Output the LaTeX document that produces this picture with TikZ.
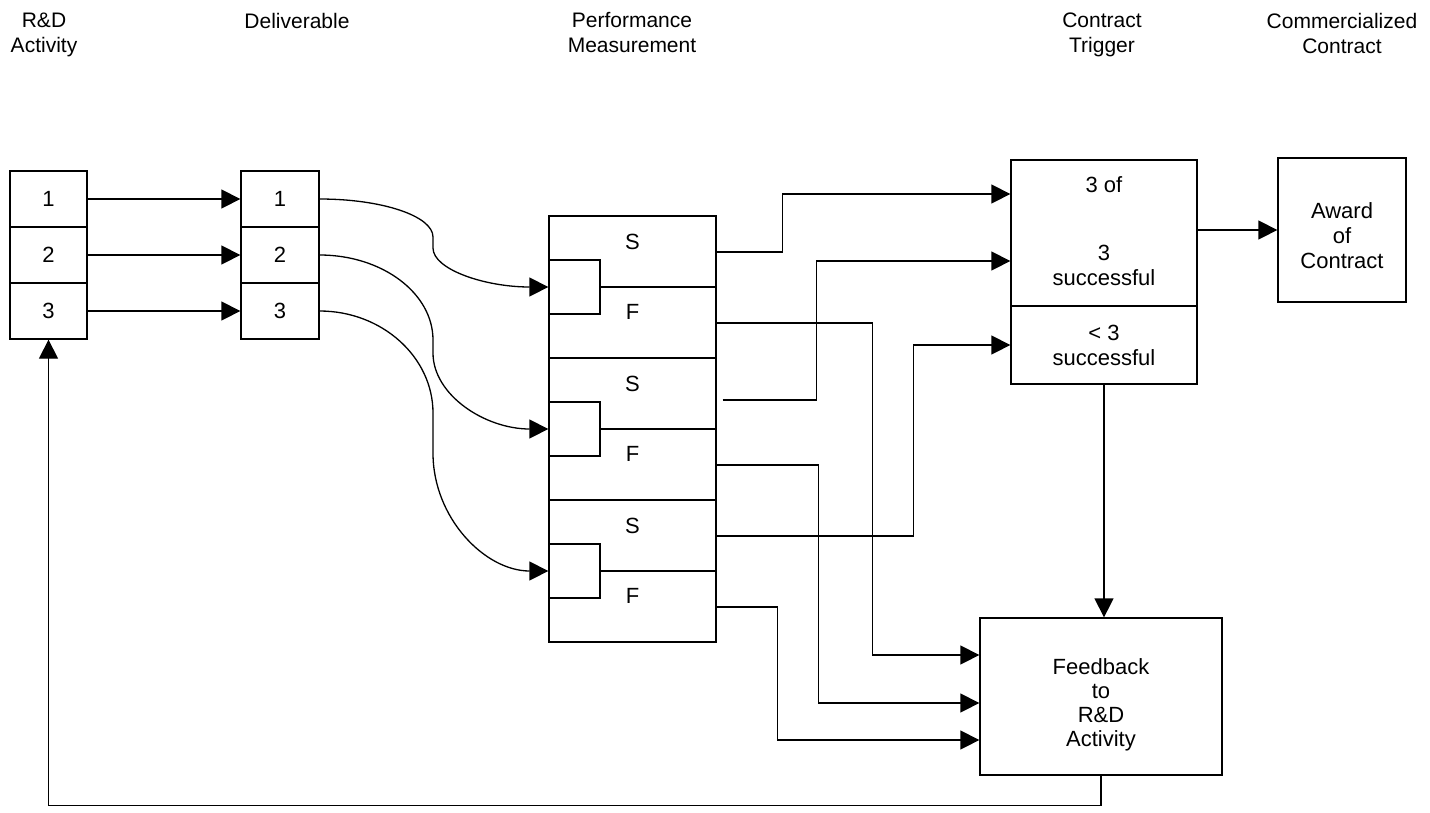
\documentclass[tikz,border=0pt]{standalone}
\usepackage{fontspec}
\setmainfont{Liberation Sans}
\usetikzlibrary{arrows.meta,calc}
\newcommand\fzb{\fontsize{22}{25}\selectfont}
\newcommand\fzh{\fontsize{21}{25}\selectfont}
\begin{document}
\begin{tikzpicture}[x=1pt,y=-1pt,
  ln/.style={line width=1.3pt},
  arr/.style={line width=1.3pt,-{Triangle[length=19pt,width=19pt]}},
  cellbox/.style={draw,line width=1.3pt,inner sep=0pt,font=\fzb},
  rdcell/.style={cellbox,minimum width=77pt,minimum height=56pt},
  delcell/.style={cellbox,minimum width=78pt,minimum height=56pt},
  pmblock/.style={cellbox,minimum width=167pt,minimum height=142pt},
  smallbox/.style={cellbox,minimum width=51pt,minimum height=54pt},
  txt/.style={font=\fzb,align=center,inner sep=0pt},
  head/.style={font=\fzh,align=center,inner sep=0pt}
]
\useasboundingbox (0,0) rectangle (1430,812);

% headers
\node[head] (hRD) at (44,35) {R\&D\\Activity};
\node[head] (hDel) at (297,20.5) {Deliverable};
\node[head] (hPM) at (632,33) {Performance\\Measurement};
\node[head] (hCT) at (1102,35) {Contract\\Trigger};
\node[head] (hCC) at (1342,33) {Commercialized\\Contract};

% R&D activity cells
\node[rdcell] (rd1) at (48.5,199) {1};
\node[rdcell] (rd2) at (48.5,255) {2};
\node[rdcell] (rd3) at (48.5,311) {3};

% deliverable cells
\node[delcell] (del1) at (280,199) {1};
\node[delcell] (del2) at (280,255) {2};
\node[delcell] (del3) at (280,311) {3};

% performance measurement blocks
\foreach \i/\y in {1/287,2/429,3/571}{
  \node[pmblock] (pm\i) at (632.5,\y) {};
  \node[smallbox] (sb\i) at (574.5,\y) {};
  \draw[ln] (sb\i.east) -- (pm\i.east);
  \node[txt] (pmS\i) at ($(pm\i.center)+(0,-45)$) {S};
  \node[txt] (pmF\i) at ($(pm\i.center)+(0,25)$) {F};
}

% contract trigger
\node[cellbox,minimum width=186pt,minimum height=146pt] (trigA) at (1104,233) {};
\node[txt] (trigA1) at (1104,185) {3 of};
\node[txt] (trigA2) at (1104,265.5) {3\\successful};
\node[cellbox,minimum width=186pt,minimum height=78pt,align=center] (trigB) at (1104,345) {< 3\\successful};

% award
\node[cellbox,minimum width=128pt,minimum height=144pt] (award) at (1342,230) {};
\node[txt] (awardT) at (1342,236) {Award\\of\\Contract};

% feedback
\node[cellbox,minimum width=242pt,minimum height=157pt] (fb) at (1101,696.5) {};
\node[txt,font=\fontsize{22}{24}\selectfont] (fbT) at (1101,705) {Feedback\\to\\R\&D\\Activity};

% R&D -> deliverable
\draw[arr] (rd1) -- (del1);
\draw[arr] (rd2) -- (del2);
\draw[arr] (rd3) -- (del3);

% deliverable -> performance (curved)
\draw[arr] (del1.east) .. controls (382,199) and (433,216) .. (433,237) -- (433,248)
  .. controls (433,269.5) and (485,287) .. (pm1.west);
\draw[arr] (del2.east) .. controls (382,255) and (433,293) .. (433,340) -- (433,353)
  .. controls (433,395) and (485,429) .. (pm2.west);
\draw[arr] (del3.east) .. controls (382,311) and (433,357) .. (433,413) -- (433,453)
  .. controls (433,518) and (485,571) .. (pm3.west);

% performance -> contract trigger
\coordinate (s2start) at ($(pm2.east)+(6,-29)$);
\draw[arr] ($(pm1.east)+(0,-35)$) -- ++(66,0) |- ($(trigA.west)+(0,-39)$);
\draw[arr] (s2start) -- ++(94,0) |- ($(trigA.west)+(0,28)$);
\draw[arr] ($(pm3.east)+(0,-35)$) -- ++(197,0) |- (trigB.west);

% performance -> feedback
\draw[arr] ($(pm1.east)+(0,36)$) -- ++(156,0) |- ($(fb.west)+(0,-41.5)$);
\draw[arr] ($(pm2.east)+(0,36)$) -- ++(102,0) |- ($(fb.west)+(0,6.5)$);
\draw[arr] ($(pm3.east)+(0,36)$) -- ++(61,0) |- ($(fb.west)+(0,43.5)$);

% trigger -> award, trigger -> feedback
\draw[arr] (award.west -| trigA.east) -- (award.west);
\draw[arr] (trigB.south) -- (trigB.south |- fb.north);

% feedback -> R&D
\draw[arr] (fb.south) -- ++(0,30) -| (rd3.south);
\end{tikzpicture}
\end{document}
